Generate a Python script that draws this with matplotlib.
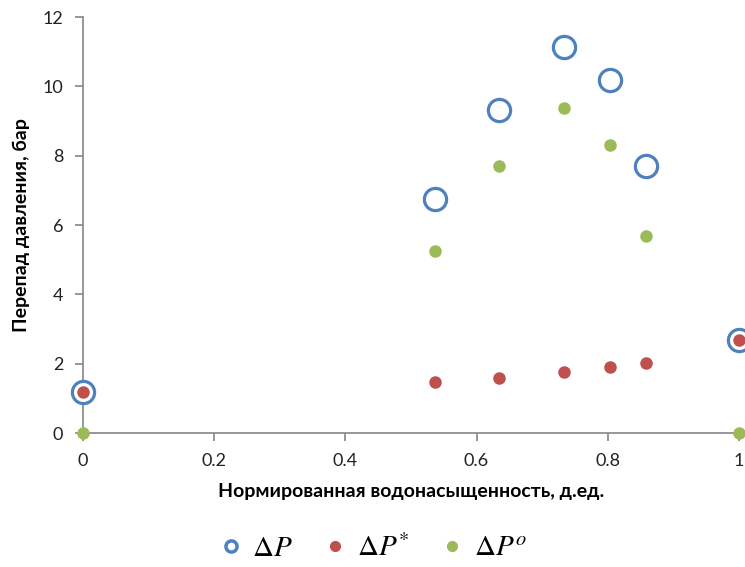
import matplotlib.pyplot as plt

# data
sw = [0, 0.537, 0.635, 0.733, 0.803, 0.858, 1.0]
dP = [1.2, 6.75, 9.31, 11.13, 10.17, 7.71, 2.68]
dP_star = [1.2, 1.48, 1.6, 1.75, 1.9, 2.03, 2.68]
dP_o = [0, 5.25, 7.71, 9.38, 8.31, 5.69, 0]

plt.rcParams['font.family'] = ['Lato', 'DejaVu Sans']
plt.rcParams['mathtext.fontset'] = 'stix'

fig = plt.figure(figsize=(7.45, 5.67), dpi=100)
ax = fig.add_axes([0.111, 0.236, 0.881, 0.734])

ax.plot(sw, dP, 'o', mfc='white', mec='#4F81BD', mew=2.3, ms=16,
        label=r'$\Delta P$', clip_on=False, zorder=3)
ax.plot(sw, dP_star, 'o', color='#C0504D', ms=8,
        label=r'$\Delta P^{*}$', clip_on=False, zorder=4)
ax.plot(sw, dP_o, 'o', color='#9BBB59', ms=8,
        label=r'$\Delta P^{o}$', clip_on=False, zorder=4)

ax.set_xlim(0, 1)
ax.set_ylim(0, 12)
ax.set_xticks([0, 0.2, 0.4, 0.6, 0.8, 1])
ax.set_xticklabels(['0', '0.2', '0.4', '0.6', '0.8', '1'])
ax.set_yticks(range(0, 13, 2))

for s in ['top', 'right']:
    ax.spines[s].set_visible(False)
for s in ['left', 'bottom']:
    ax.spines[s].set_color('#868686')
    ax.spines[s].set_linewidth(1.2)
ax.tick_params(colors='#868686', labelcolor='#222222', labelsize=13,
               length=6, width=1.2, pad=8)

ax.set_xlabel('Нормированная водонасыщенность, д.ед.', fontsize=14,
              fontweight='bold', labelpad=10)
ax.set_ylabel('Перепад давления, бар', fontsize=14, fontweight='bold',
              labelpad=9)

leg = fig.legend(loc='center', bbox_to_anchor=(0.5, 0.035), ncol=3,
                 frameon=False, fontsize=21,
                 handlelength=0.9, handletextpad=0.3, columnspacing=1.0)
leg.legend_handles[0].set_markersize(8)
leg.legend_handles[0].set_markeredgewidth(2.5)
leg.legend_handles[1].set_markersize(7)
leg.legend_handles[2].set_markersize(7)

plt.savefig('out.png', dpi=100)
